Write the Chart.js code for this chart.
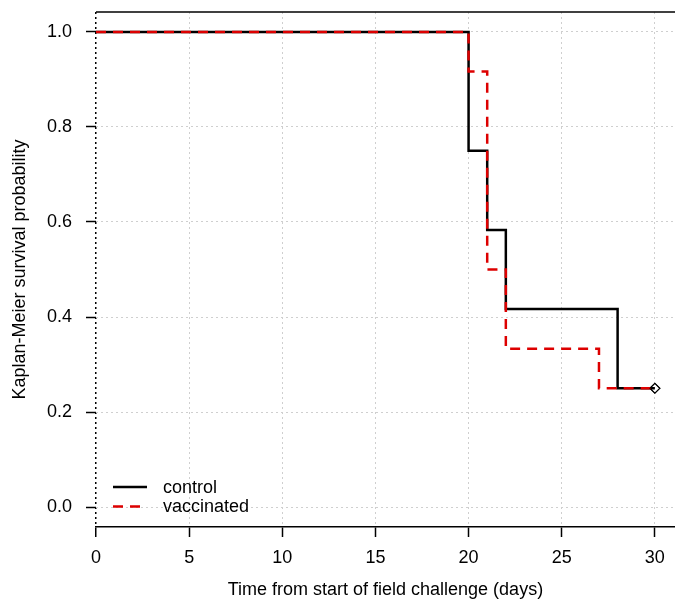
<!DOCTYPE html>
<html>
<head>
<meta charset="utf-8">
<script src="https://cdn.jsdelivr.net/npm/chart.js@4"></script>
<style>
  html, body { margin: 0; padding: 0; background: #fff; overflow: hidden; width: 675px; height: 604px; }
  canvas { display: block; }
</style>
</head>
<body>
<!-- canvas a bit wider than the window: the plot frame runs off the right edge like the original -->
<canvas id="kmChart" width="681" height="604"></canvas>
<script>
// Kaplan-Meier step data (time in days, survival probability)
const controlTimes = [0, 20, 21, 22, 28, 30];
const controlSurv = [1.0, 0.75, 0.583, 0.417, 0.25, 0.25];
const vaccinatedTimes = [0, 20, 21, 22, 27, 30];
const vaccinatedSurv = [1.0, 0.917, 0.5, 0.333, 0.25, 0.25];
const xTicks = [0, 5, 10, 15, 20, 25, 30];
const yTicks = [0, 0.2, 0.4, 0.6, 0.8, 1.0];

const FONT = "'Liberation Sans', Arial, sans-serif";
const RED = '#dd0000';

function toPoints(times, surv) {
    return times.map((t, i) => ({ x: t, y: surv[i] }));
}

// last point is the censored observation -> diamond marker
const censorRadius = ctx => ctx.dataIndex === ctx.dataset.data.length - 1 ? 5 : 0;

// top frame line + legend in bottom-left of the plot area
const framePlugin = {
    id: 'frame',
    afterDraw(chart) {
        const { ctx, chartArea } = chart;
        ctx.save();
        ctx.strokeStyle = '#000';
        ctx.lineWidth = 1.5;
        ctx.beginPath();
        ctx.moveTo(chartArea.left, chartArea.top);
        ctx.lineTo(chart.width, chartArea.top);
        ctx.stroke();

        const items = [chart.data.datasets[0], chart.data.datasets[1]];
        ctx.font = '18px ' + FONT;
        ctx.textBaseline = 'middle';
        ctx.textAlign = 'left';
        items.forEach((ds, i) => {
            const y = chartArea.bottom - 40 + i * 19.5;
            ctx.strokeStyle = ds.borderColor;
            ctx.lineWidth = ds.borderWidth;
            ctx.setLineDash(ds.borderDash || []);
            ctx.beginPath();
            ctx.moveTo(chartArea.left + 17, y);
            ctx.lineTo(chartArea.left + 51, y);
            ctx.stroke();
            ctx.setLineDash([]);
            ctx.fillStyle = '#000';
            ctx.fillText(ds.label, chartArea.left + 67, y + 1);
        });
        ctx.restore();
    }
};

new Chart(document.getElementById('kmChart'), {
    type: 'line',
    data: {
        datasets: [
            {
                label: 'control',
                data: toPoints(controlTimes, controlSurv),
                borderColor: '#000',
                borderWidth: 2.5,
                stepped: true,
                fill: false,
                order: 1,
                pointStyle: 'rectRot',
                pointRadius: censorRadius,
                pointBorderColor: '#000',
                pointBackgroundColor: 'rgba(0,0,0,0)',
                pointBorderWidth: 1.2,
            },
            {
                label: 'vaccinated',
                data: toPoints(vaccinatedTimes, vaccinatedSurv),
                borderColor: RED,
                borderWidth: 2.5,
                borderDash: [10, 7],
                stepped: true,
                fill: false,
                order: 0,
                pointStyle: 'rectRot',
                pointRadius: censorRadius,
                pointBorderColor: '#000',
                pointBackgroundColor: 'rgba(0,0,0,0)',
                pointBorderWidth: 1,
            },
        ],
    },
    options: {
        responsive: false,
        animation: false,
        layout: { padding: { top: 12, right: 0, left: 0, bottom: 0 } },
        plugins: {
            legend: { display: false },
            tooltip: { enabled: false },
        },
        scales: {
            x: {
                type: 'linear',
                min: 0,
                max: 31.07,
                afterBuildTicks: scale => {
                    scale.ticks = xTicks.map(v => ({ value: v }));
                },
                afterFit: scale => {
                    scale.height = 77;
                    scale.paddingLeft = 0;
                    scale.paddingRight = 0;
                },
                ticks: {
                    color: '#000',
                    font: { size: 18, family: FONT },
                    padding: 10,
                    maxRotation: 0,
                    autoSkip: false,
                    callback: v => String(v),
                },
                grid: {
                    color: ctx => ctx.tick && ctx.tick.value === 0 ? '#000' : '#cfcfcf',
                    lineWidth: ctx => ctx.tick && ctx.tick.value === 0 ? 1.5 : 1,
                    tickLength: 10,
                    tickColor: '#000',
                    tickWidth: 1.5,
                },
                border: { display: true, color: '#000', width: 1.5, dash: [2, 3] },
                title: {
                    display: true,
                    text: 'Time from start of field challenge (days)',
                    color: '#000',
                    font: { size: 18, family: FONT },
                    padding: { top: 0, bottom: 3 },
                },
            },
            y: {
                type: 'linear',
                min: -0.042,
                max: 1.042,
                afterBuildTicks: scale => {
                    scale.ticks = yTicks.map(v => ({ value: v }));
                },
                afterFit: scale => {
                    scale.width = 96;
                    scale.paddingTop = 0;
                    scale.paddingBottom = 0;
                },
                ticks: {
                    color: '#000',
                    font: { size: 18, family: FONT },
                    padding: 14,
                    callback: v => v.toFixed(1),
                },
                grid: {
                    color: '#cfcfcf',
                    lineWidth: 1,
                    tickLength: 10,
                    tickColor: '#000',
                    tickWidth: 1.5,
                },
                border: { display: false, dash: [2, 3] },
                title: {
                    display: true,
                    text: 'Kaplan-Meier survival probability',
                    color: '#000',
                    font: { size: 18, family: FONT },
                    padding: { top: 9, bottom: 0 },
                },
            },
        },
    },
    plugins: [framePlugin],
});
</script>
</body>
</html>
